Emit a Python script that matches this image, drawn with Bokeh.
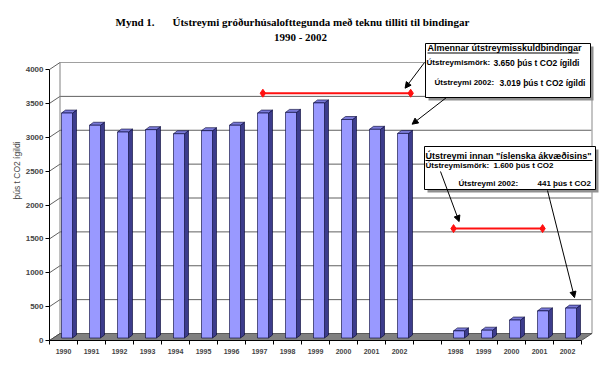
from bokeh.plotting import figure
from bokeh.models import Range1d, FixedTicker, Label, Arrow, NormalHead
from bokeh.embed import file_html
from bokeh.resources import INLINE

# ---------------- data ----------------
years_total = ["1990", "1991", "1992", "1993", "1994", "1995", "1996",
               "1997", "1998", "1999", "2000", "2001", "2002"]
emis_total = [3320, 3140, 3040, 3075, 3015, 3060, 3140, 3320, 3330, 3470, 3225, 3080, 3019]
years_special = ["1998", "1999", "2000", "2001", "2002"]
emis_special = [105, 115, 265, 400, 441]
limit_total = 3650
limit_special = 1600
y_ticks = [0, 500, 1000, 1500, 2000, 2500, 3000, 3500, 4000]

# ---------------- geometry helpers (reference pixels -> data) ----------------
W, H = 600, 369
PXX = 28.0            # px per category slot
PXY = 271.0 / 4000.0  # px per unit
OX, OY = 49.0, 340.0  # pixel of x=-0.5 / y=0


def X(px):
    return -0.5 + (px - OX) / PXX


def Y(py):
    return (OY - py) / PXY


pos_total = list(range(len(years_total)))
gap = 1
pos_special = [len(years_total) + gap + i for i in range(len(years_special))]
n_slots = len(years_total) + gap + len(years_special)
x_lo, x_hi = -0.5, n_slots - 0.5

p = figure(width=W, height=H, output_backend="svg", toolbar_location=None,
           x_range=Range1d(x_lo, X(W)), y_range=Range1d(0, Y(0)),
           min_border_left=int(OX), min_border_right=0, min_border_top=0,
           min_border_bottom=int(H - OY))
p.outline_line_color = None
p.grid.visible = False
p.background_fill_color = "white"
p.border_fill_color = "white"

# ---------------- 3D walls ----------------
WX = 10.5 / PXX
WY = 7.0 / PXY
n = len(y_ticks)
p.segment(x0=[x_lo] * n, y0=y_ticks, x1=[x_lo + WX] * n, y1=[t + WY for t in y_ticks],
          line_color="#606060", line_width=1)
grid_y = [t + WY for t in y_ticks[1:]]
p.segment(x0=[x_lo + WX] * len(grid_y), y0=grid_y, x1=[x_hi + WX] * len(grid_y), y1=grid_y,
          line_color=["#606060"] * (len(grid_y) - 1) + ["#a0a0a0"], line_width=1)
p.segment(x0=[x_lo + WX], y0=[WY], x1=[x_lo + WX], y1=[y_ticks[-1] + WY],
          line_color="#808080", line_width=1)
p.segment(x0=[x_hi + WX], y0=[WY], x1=[x_hi + WX], y1=[y_ticks[-1] + WY],
          line_color="#b0b0b0", line_width=1.5)
# floor
p.patch(x=[x_lo, x_hi, x_hi + WX, x_lo + WX], y=[0, 0, WY, WY],
        fill_color="#808080", line_color="#404040", line_width=0.8)

# ---------------- 3D bars ----------------
BX = 3.5 / PXX
BY = 2.5 / PXY
BW = 5.5 / PXX
SX = 4.0 / PXX
SY = 3.0 / PXY

xs_all = pos_total + pos_special
vs_all = emis_total + emis_special
lefts = [c + BX - BW for c in xs_all]
rights = [c + BX + BW for c in xs_all]
p.patches(xs=[[r, r + SX, r + SX, r] for r in rights],
          ys=[[BY, BY + SY, v + BY + SY, v + BY] for v in vs_all],
          fill_color="#3c3c8c", line_color="#000030", line_width=0.6)
p.patches(xs=[[l, r, r + SX, l + SX] for l, r in zip(lefts, rights)],
          ys=[[v + BY, v + BY, v + BY + SY, v + BY + SY] for v in vs_all],
          fill_color="#7a7ad8", line_color="#000030", line_width=0.6)
p.quad(left=lefts, right=rights, bottom=[BY] * len(vs_all), top=[v + BY for v in vs_all],
       fill_color="#9999ff", line_color="#000030", line_width=0.6)

# ---------------- limit lines ----------------
l1x = [pos_total[7] + 0.12, pos_total[12] + 0.4]
l1y = [limit_total, limit_total]
l2x = [pos_special[0] - 0.07, pos_special[3] + 0.11]
l2y = [limit_special + 3.5 / PXY] * 2
for lx, ly in ((l1x, l1y), (l2x, l2y)):
    p.line(lx, ly, line_color="#ff1010", line_width=2)
    p.scatter(lx, ly, marker="diamond", size=8, fill_color="#ff1010", line_color="#ff1010")

# ---------------- annotation boxes ----------------
def box(l, t, r, b):
    p.quad(left=[X(l + 3)], right=[X(r + 3)], top=[Y(t + 3)], bottom=[Y(b + 3)],
           fill_color="#909090", line_color=None)
    p.quad(left=[X(l)], right=[X(r)], top=[Y(t)], bottom=[Y(b)],
           fill_color="white", line_color="black", line_width=1)


box(425, 43, 590, 97)
box(424, 146, 595, 189)


def lab(px, py, text, size="8px", style="bold", font="Liberation Sans", align="left"):
    p.add_layout(Label(x=X(px), y=Y(py), text=text, text_font=font, text_font_size=size,
                       text_font_style=style, text_baseline="middle", text_align=align,
                       text_color="black"))


lab(427, 47.5, "Almennar útstreymisskuldbindingar", size="9px")
p.segment(x0=[X(427)], y0=[Y(52.5)], x1=[X(578)], y1=[Y(52.5)], line_color="black", line_width=1)
lab(426, 62, "Útstreymismörk:", size="8px")
lab(493, 62, "3.650 þús t CO2 ígildi", size="8.5px")
lab(434, 82, "Útstreymi 2002:", size="8px")
lab(499, 82, "3.019 þús t CO2 ígildi", size="8.5px")

lab(425, 155, "Útstreymi innan \"íslenska ákvæðisins\"", size="9px")
p.segment(x0=[X(425)], y0=[Y(160)], x1=[X(592)], y1=[Y(160)], line_color="black", line_width=1)
lab(425, 165, "Útstreymismörk:", size="8px")
lab(493, 165, "1.600 þús t CO2", size="8px")
lab(458, 183, "Útstreymi 2002:", size="8px")
lab(537, 183, "441 þús t CO2", size="8px")

# ---------------- arrows ----------------
def arrow(x0, y0, x1, y1):
    p.add_layout(Arrow(end=NormalHead(size=6, fill_color="black", line_color="black"),
                       x_start=x0, y_start=y0, x_end=x1, y_end=y1,
                       line_color="black", line_width=1))


arrow(X(424), Y(62), l1x[1] - 0.2, l1y[1] + 5.0 / PXY)
arrow(X(446), Y(97), pos_total[12] + 0.45, emis_total[12] + 100 + 5.0 / PXY)
arrow(X(440), Y(171), l2x[0] + 0.2, l2y[0] + 7.0 / PXY)
arrow(X(547), Y(190), pos_special[4] + 0.25, emis_special[4] + 3.0 / PXY + 10.0 / PXY)

# ---------------- title ----------------
lab(115, 21, "Mynd 1.", size="11px", font="Liberation Serif")
lab(172, 21, "Útstreymi gróðurhúsalofttegunda með teknu tilliti til bindingar",
    size="11px", font="Liberation Serif")
lab(300, 36, "1990 - 2002", size="11px", font="Liberation Serif", align="center")

# ---------------- axes ----------------
yax = p.yaxis[0]
yax.ticker = FixedTicker(ticks=y_ticks)
yax.bounds = (0, y_ticks[-1])
yax.major_tick_out = 4
yax.major_tick_in = 0
yax.minor_tick_out = 0
yax.minor_tick_in = 0
yax.major_label_text_font = "Liberation Sans"
yax.major_label_text_font_style = "bold"
yax.major_label_text_font_size = "8px"
yax.major_label_standoff = 2
yax.axis_label = "þús t CO2 ígildi"
yax.axis_label_text_font = "Liberation Sans"
yax.axis_label_text_font_style = "normal"
yax.axis_label_text_font_size = "8.5px"
yax.axis_label_standoff = 1
yax.axis_line_color = "black"

xax = p.xaxis[0]
xax.ticker = FixedTicker(ticks=xs_all, minor_ticks=[x_lo + k for k in range(n_slots + 1)])
xax.major_label_overrides = {c: y for c, y in zip(xs_all, years_total + years_special)}
xax.bounds = (x_lo, x_hi)
xax.major_tick_out = 0
xax.major_tick_in = 0
xax.minor_tick_out = 4
xax.minor_tick_in = 0
xax.major_label_text_font = "Liberation Sans"
xax.major_label_text_font_style = "bold"
xax.major_label_text_font_size = "7px"
xax.major_label_standoff = 4
xax.axis_line_color = "black"

open("out.html", "w").write(file_html(p, INLINE))
